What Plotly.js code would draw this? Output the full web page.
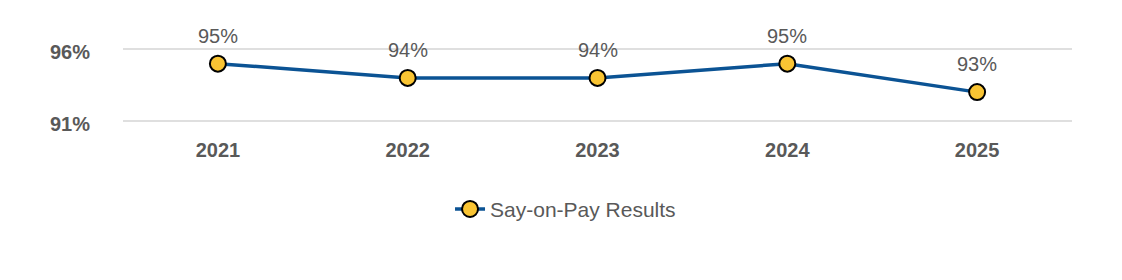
<!DOCTYPE html>
<html>
<head>
<meta charset="utf-8">
<script src="https://cdn.plot.ly/plotly-3.0.1.min.js"></script>
<style>html,body{margin:0;padding:0;background:#fff;}#chart{width:1122px;height:280px;}</style>
</head>
<body>
<div id="chart"></div>
<script>
const years = ['2021', '2022', '2023', '2024', '2025'];
const results = [95, 94, 94, 95, 93];
const seriesName = 'Say-on-Pay Results';
const yTickVals = [91, 96];
const yTickText = ['91%', '96%'];

const FONT = 'Liberation Sans, Arial, sans-serif';
const GRAY = '#595959';

const trace = {
  x: years,
  y: results,
  type: 'scatter',
  mode: 'lines+markers',
  name: seriesName,
  cliponaxis: false,
  line: {color: '#0B5394', width: 3.5},
  marker: {size: 16, color: '#F9C433', line: {color: '#000000', width: 2}},
  hoverinfo: 'skip'
};

const annotations = years.map((yr, i) => ({
  x: i, y: results[i], xref: 'x', yref: 'y',
  text: results[i] + '%', showarrow: false, yshift: 28,
  font: {family: FONT, size: 20, color: GRAY}
}));

const layout = {
  width: 1122, height: 280,
  margin: {l: 123, r: 50, t: 47.5, b: 157.5, pad: 0},
  paper_bgcolor: '#ffffff', plot_bgcolor: '#ffffff',
  showlegend: true,
  legend: {
    orientation: 'h', x: 0.3446, xanchor: 'left', y: -1.18, yanchor: 'middle',
    font: {family: FONT, size: 21, color: GRAY}
  },
  xaxis: {
    type: 'category', range: [-0.5, 4.5], showgrid: false, zeroline: false, showline: false,
    ticks: 'outside', ticklen: 10, tickcolor: 'rgba(0,0,0,0)',
    tickfont: {family: FONT, size: 20, color: GRAY, weight: 'bold'}
  },
  yaxis: {
    range: [90.9, 96.1], tickvals: yTickVals, ticktext: yTickText,
    showgrid: true, gridcolor: '#DFDFDF', gridwidth: 2, zeroline: false, showline: false,
    ticks: 'outside', ticklen: 28, tickcolor: 'rgba(0,0,0,0)', ticklabelshift: 3,
    tickfont: {family: FONT, size: 20, color: GRAY, weight: 'bold'}
  },
  annotations: annotations
};

Plotly.newPlot('chart', [trace], layout, {staticPlot: true, displayModeBar: false});
</script>
</body>
</html>
